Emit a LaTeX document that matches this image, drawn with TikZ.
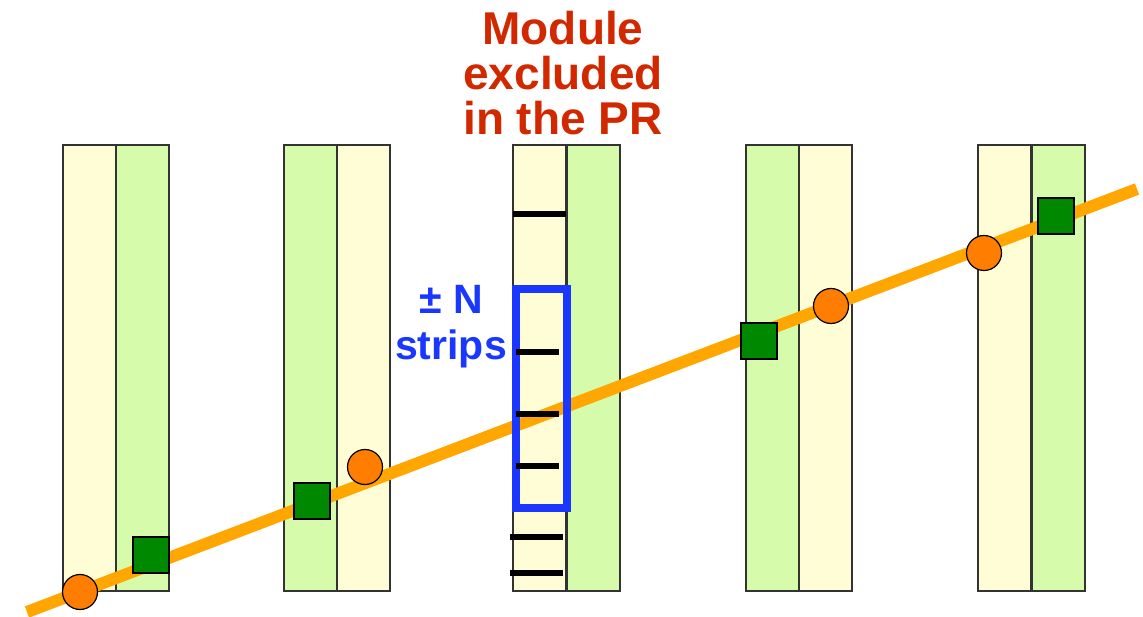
\documentclass[tikz,border=0pt]{standalone}
\usepackage{fontspec}
\setmainfont{Liberation Sans}
\begin{document}
\begin{tikzpicture}[x=1pt,y=-1pt,
  cream/.style={fill=creamc,draw=black!80,line width=1.6pt,inner sep=0pt,minimum width=53pt,minimum height=446pt,anchor=north west},
  lgreen/.style={cream,fill=lgreenc},
  hit/.style={circle,fill=hitorange,draw=black,line width=1.2pt,minimum size=35pt,inner sep=0pt},
  pred/.style={rectangle,fill=predgreen,draw=black,line width=1.2pt,minimum size=36pt,inner sep=0pt},
  track/.style={line width=12pt,draw=trackorange},
  stripmark/.style={line width=5.5pt,draw=black},
  redtext/.style={text=labred,font=\bfseries\fontsize{46}{45}\selectfont,align=center},
  bluetext/.style={text=winblue,font=\bfseries\fontsize{41}{47}\selectfont,align=center}
]
\definecolor{creamc}{RGB}{255,253,214}
\definecolor{lgreenc}{RGB}{214,251,170}
\definecolor{hitorange}{RGB}{255,125,0}
\definecolor{predgreen}{RGB}{0,136,0}
\definecolor{trackorange}{RGB}{255,166,0}
\definecolor{winblue}{RGB}{25,55,255}
\definecolor{labred}{RGB}{210,40,0}
\useasboundingbox (0,0) rectangle (1143,617);
% modules
\node[cream]  (m1a) at (62,144) {};
\node[lgreen] (m1b) at (115,144) {};
\node[lgreen] (m2a) at (283,144) {};
\node[cream]  (m2b) at (336,144) {};
\node[cream]  (m3a) at (512,144) {};
\node[lgreen] (m3b) at (566,144) {};
\node[lgreen] (m4a) at (745,144) {};
\node[cream]  (m4b) at (798,144) {};
\node[cream]  (m5a) at (977,144) {};
\node[lgreen] (m5b) at (1031,144) {};
% track
\coordinate (tstart) at (27,612);
\coordinate (tend) at (1137,189);
\draw[track] (tstart) -- (tend);
% search window
\node[draw=winblue,line width=8pt,minimum width=51pt,minimum height=219pt,inner sep=0pt,anchor=north west] (win) at (512,285) {};
% strip marks
\coordinate (s1a) at (513,214); \coordinate (s1b) at (566,214);
\coordinate (s2a) at (516,352); \coordinate (s2b) at (559,352);
\coordinate (s3a) at (516,414); \coordinate (s3b) at (559,414);
\coordinate (s4a) at (516,466); \coordinate (s4b) at (559,466);
\coordinate (s5a) at (510,537); \coordinate (s5b) at (563,537);
\coordinate (s6a) at (510,573); \coordinate (s6b) at (563,573);
\foreach \i in {1,...,6} {\draw[stripmark] (s\i a) -- (s\i b);}
% hits and predictions
\node[hit] (h1) at (80,592) {};
\node[pred] (p1) at (151,555) {};
\node[pred] (p2) at (312,501) {};
\node[hit] (h2) at (365,467) {};
\node[pred] (p3) at (759,341) {};
\node[hit] (h3) at (831,306) {};
\node[hit] (h4) at (984,253) {};
\node[pred] (p4) at (1056,216) {};
% labels
\node[redtext,anchor=base] (title) at (563,135) {Module\\excluded\\in the PR};
\node[bluetext,anchor=base] (nlab) at (451,360) {± N\\strips};
\end{tikzpicture}
\end{document}
